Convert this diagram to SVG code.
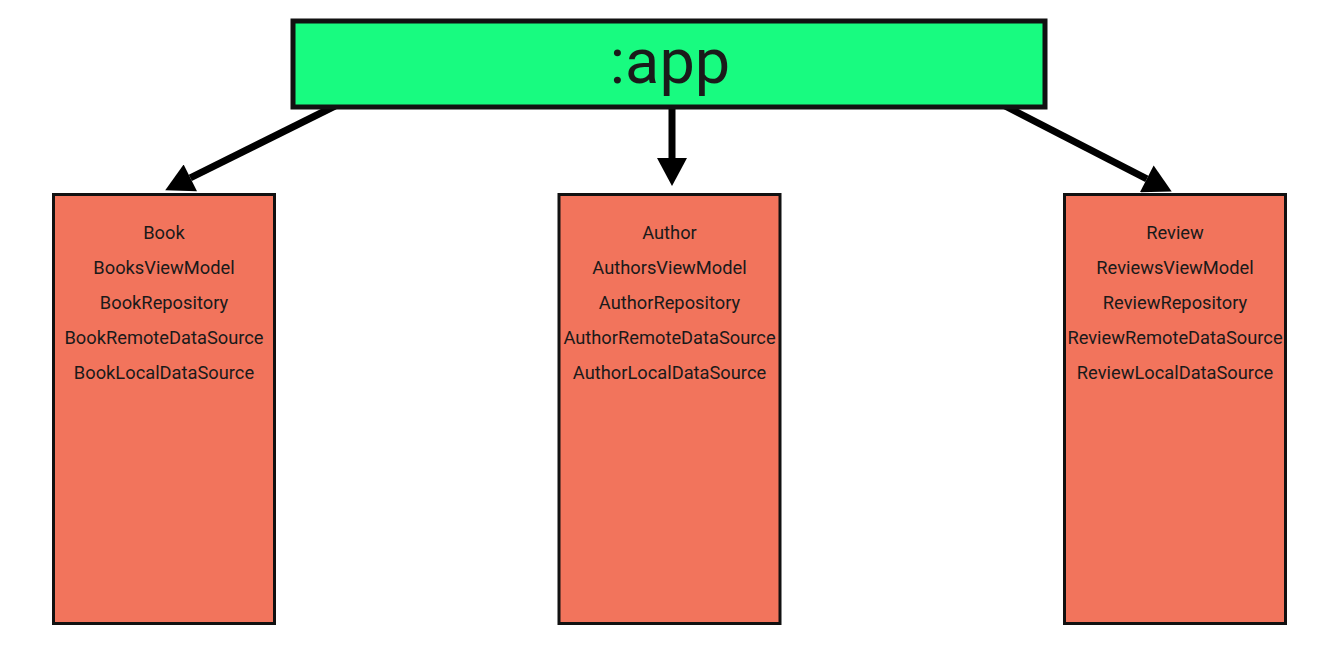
<svg xmlns="http://www.w3.org/2000/svg" width="1328" height="667" viewBox="0 0 1328 667">
  <style>
    .app { fill: #18FB80; stroke: #111; stroke-width: 5; }
    .mod { fill: #F2745C; stroke: #111; stroke-width: 3; }
    .title { font-family: Roboto, "Liberation Sans", sans-serif; font-size: 63px; fill: #1a1a1a; text-anchor: middle; }
    .item { font-family: Roboto, "Liberation Sans", sans-serif; font-size: 18.3px; fill: #1a1a1a; text-anchor: middle; }
    .conn { stroke: #000; stroke-width: 7; fill: none; marker-end: url(#head); }
  </style>
  <defs>
    <marker id="head" markerUnits="userSpaceOnUse" markerWidth="30" markerHeight="30" refX="0" refY="15" orient="auto" viewBox="0 0 28 30">
      <path d="M0,0 L28,15 L0,30 Z" fill="#000"/>
    </marker>
  </defs>
  <rect width="1328" height="667" fill="#fff"/>
  <g id="connectors">
    <line class="conn" x1="335" y1="106" x2="190.3" y2="177.9"/>
    <line class="conn" x1="672" y1="106" x2="672" y2="158"/>
    <line class="conn" x1="1005" y1="106" x2="1146.8" y2="178.8"/>
  </g>
  <g id="app">
    <rect class="app" x="293" y="21" width="752" height="86"/>
    <text class="title" x="670" y="83">:app</text>
  </g>
  <g id="book">
    <rect class="mod" x="53.5" y="194.5" width="221" height="429"/>
    <text class="item" x="164" y="239">Book</text>
    <text class="item" x="164" y="274">BooksViewModel</text>
    <text class="item" x="164" y="309">BookRepository</text>
    <text class="item" x="164" y="344">BookRemoteDataSource</text>
    <text class="item" x="164" y="379">BookLocalDataSource</text>
  </g>
  <g id="author">
    <rect class="mod" x="559" y="194.5" width="221" height="429"/>
    <text class="item" x="669.5" y="239">Author</text>
    <text class="item" x="669.5" y="274">AuthorsViewModel</text>
    <text class="item" x="669.5" y="309">AuthorRepository</text>
    <text class="item" x="669.5" y="344">AuthorRemoteDataSource</text>
    <text class="item" x="669.5" y="379">AuthorLocalDataSource</text>
  </g>
  <g id="review">
    <rect class="mod" x="1064.5" y="194.5" width="221" height="429"/>
    <text class="item" x="1175" y="239">Review</text>
    <text class="item" x="1175" y="274">ReviewsViewModel</text>
    <text class="item" x="1175" y="309">ReviewRepository</text>
    <text class="item" x="1175" y="344">ReviewRemoteDataSource</text>
    <text class="item" x="1175" y="379">ReviewLocalDataSource</text>
  </g>
</svg>
